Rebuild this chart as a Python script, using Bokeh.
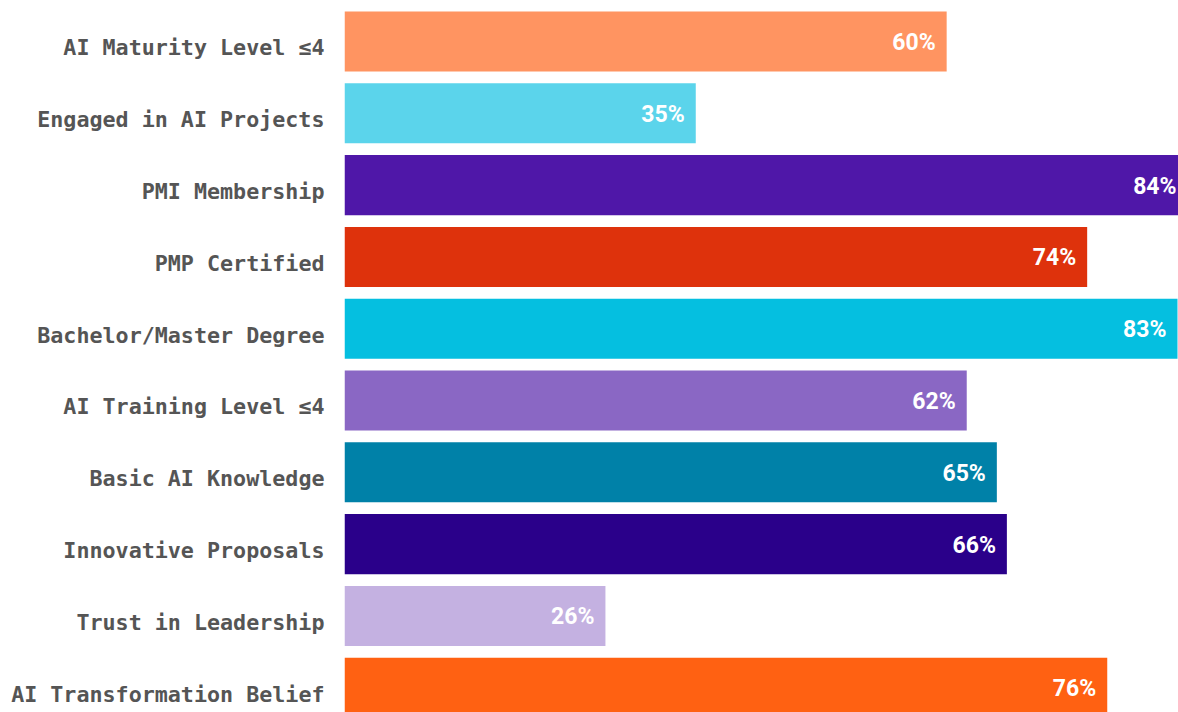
from bokeh.plotting import figure
from bokeh.models import ColumnDataSource, Range1d, LinearAxis, FixedTicker
from bokeh.core.properties import value
from bokeh.embed import file_html
from bokeh.resources import INLINE

categories = [
    "AI Maturity Level ≤4",
    "Engaged in AI Projects",
    "PMI Membership",
    "PMP Certified",
    "Bachelor/Master Degree",
    "AI Training Level ≤4",
    "Basic AI Knowledge",
    "Innovative Proposals",
    "Trust in Leadership",
    "AI Transformation Belief",
]
values = [60, 35, 84, 74, 83, 62, 65, 66, 26, 76]
value_labels = [f"{v}%" for v in values]
colors = [
    "#FF9461", "#5BD4EB", "#4F17A8", "#DE320C", "#05BFE0",
    "#8A67C4", "#0081A8", "#2A008A", "#C4B1E1", "#FF6112",
]

pos = list(range(len(categories)))
src = ColumnDataSource(dict(y=pos, v=values, lab=value_labels, c=colors))

y_top, y_bot = -0.46, 9.345
shift = 0.09
p = figure(width=1178, height=712, output_backend="svg", toolbar_location=None,
           x_range=Range1d(0, 83.1), y_range=Range1d(y_bot, y_top),
           min_border_left=344, min_border_right=0, min_border_top=8, min_border_bottom=0)
p.xaxis.visible = False
p.yaxis.visible = False
p.grid.visible = False
p.outline_line_color = None
p.background_fill_color = "white"
p.border_fill_color = "white"

p.extra_y_ranges = {"lab": Range1d(y_bot - shift, y_top - shift)}
ax = LinearAxis(y_range_name="lab", ticker=FixedTicker(ticks=pos),
                major_label_overrides={i: c for i, c in zip(pos, categories)})
ax.axis_line_color = None
ax.major_tick_line_color = None
ax.minor_tick_line_color = None
ax.major_tick_out = 0
ax.major_tick_in = 0
ax.major_label_standoff = 20
ax.major_label_text_font = "DejaVu Sans Mono"
ax.major_label_text_font_style = "bold"
ax.major_label_text_font_size = "21.7px"
ax.major_label_text_color = "#555555"
p.add_layout(ax, "left")

p.hbar(y="y", left=0, right="v", height=0.836, fill_color="c", line_color=None, source=src)

p.text(x="v", y="y", text="lab", source=src, x_offset=-11,
       text_align="right", text_baseline="middle", y_offset=1,
       text_font=value("Roboto"), text_font_style="bold",
       text_font_size="23px", text_color="white")

open("out.html", "w").write(file_html(p, INLINE))
